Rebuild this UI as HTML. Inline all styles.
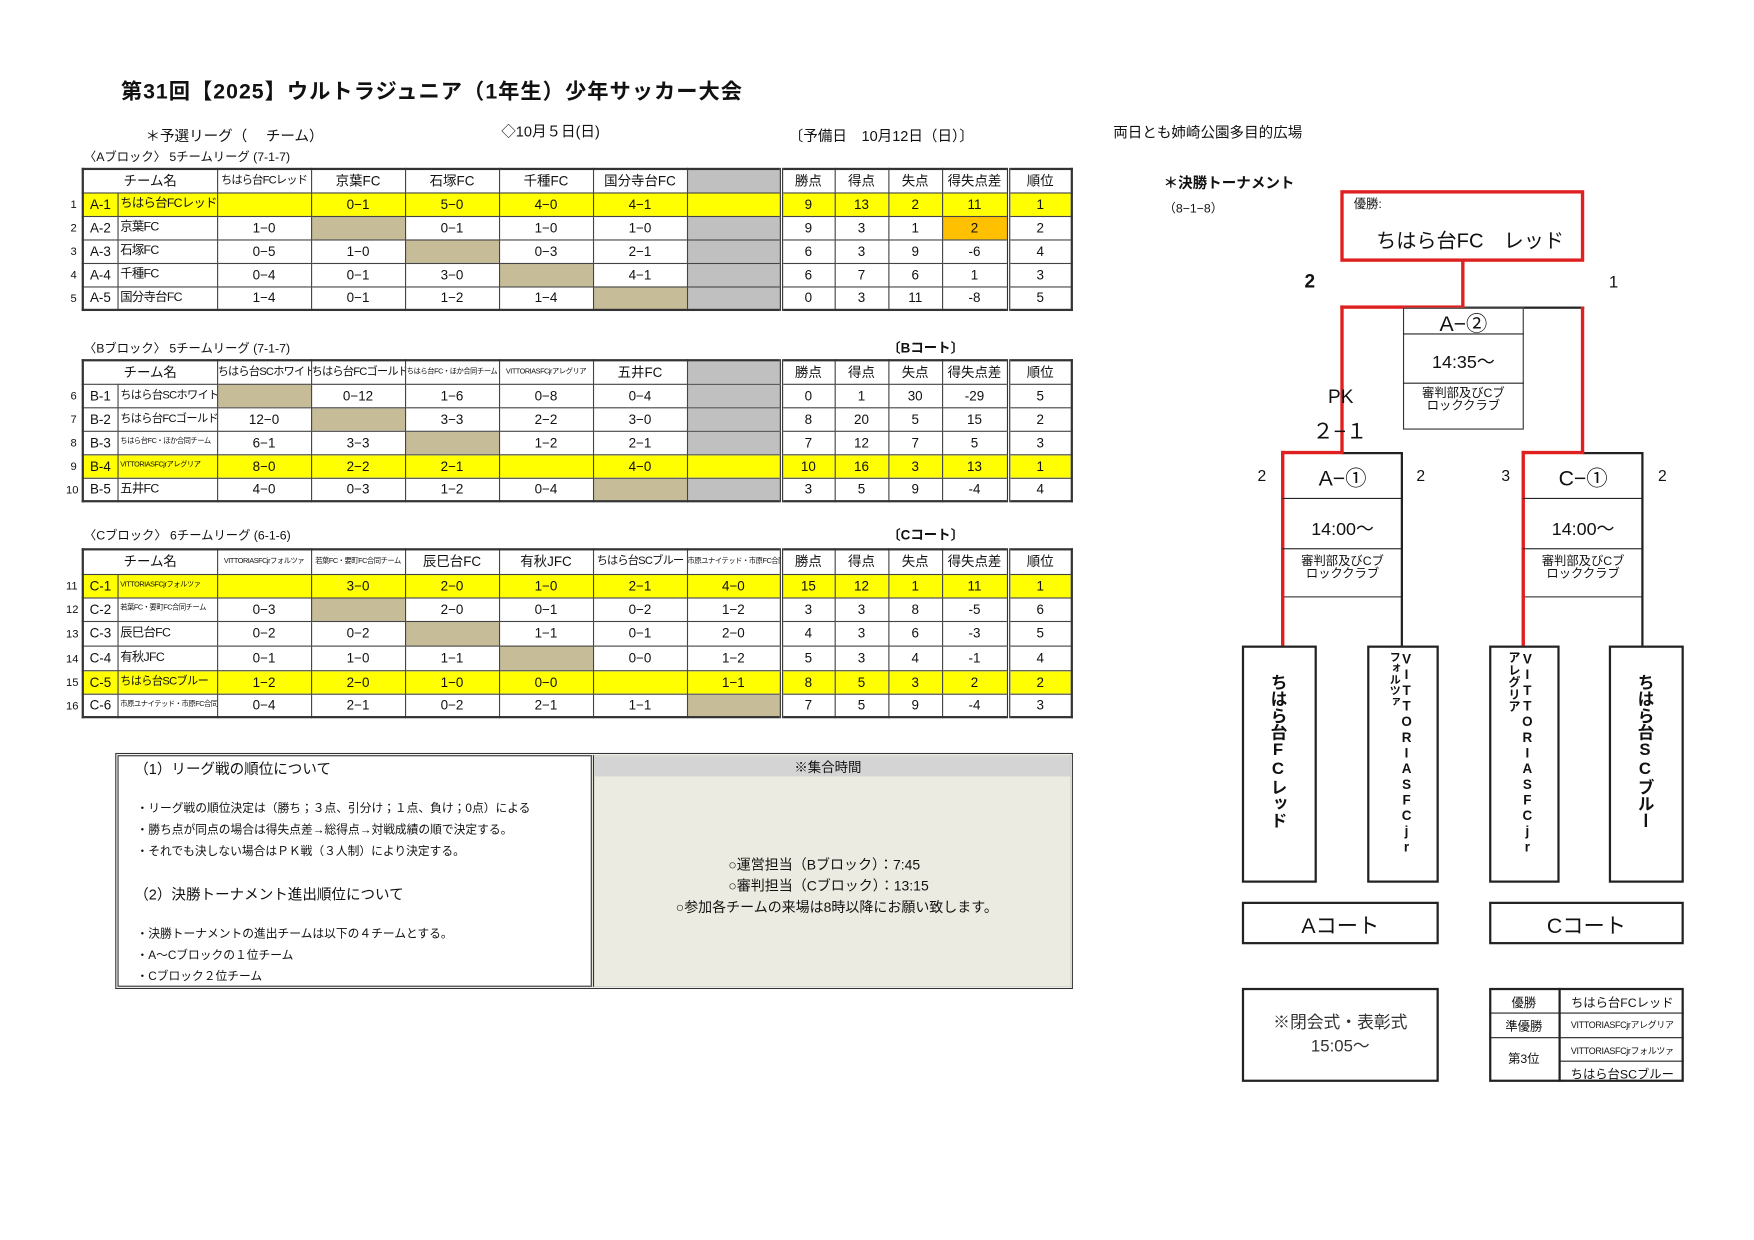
<!DOCTYPE html>
<html><head><meta charset="utf-8">
<style>
html,body{margin:0;padding:0;background:#fff;}
body{width:1754px;height:1240px;overflow:hidden;position:relative;font-family:"Liberation Sans","Noto Sans CJK JP",sans-serif;color:#111;}
#w{position:absolute;left:0;top:0;width:1560px;height:1103px;transform:scale(1.1188);transform-origin:0 0;}
.a{position:absolute;white-space:nowrap;}
table.t{position:absolute;border-collapse:collapse;table-layout:fixed;border:2px solid #333;}
table.t td{border:1px solid #444;padding:0;text-align:center;font-size:12px;overflow:hidden;white-space:nowrap;line-height:1;}
table.t td.l{text-align:left;padding-left:2px;font-size:11px;letter-spacing:-0.6px;}
td.s{font-size:6.5px !important;letter-spacing:-0.4px !important;}
td.h{font-size:10px !important;letter-spacing:-0.7px;}
td.bl{border-left:3px double #333 !important;}
tr.y td{background:#ffff00;}
td.tan{background:#c6bc98 !important;}
td.gr{background:#c0c0c0 !important;}
td.or{background:#ffc000 !important;}
.rn{position:absolute;font-size:10px;left:63px;}
.box{position:absolute;border:2px solid #222;box-sizing:border-box;background:#fff;}
.red{position:absolute;background:#e02020;}
.blk{position:absolute;background:#222;}
.vt{writing-mode:vertical-rl;text-orientation:upright;font-weight:bold;font-size:15px;line-height:1.05;position:absolute;}
</style></head><body><div id="w">

<div class="a" style="left:108px;top:67px;font-size:19px;font-weight:bold;letter-spacing:0.9px;">第31回【2025】ウルトラジュニア（1年生）少年サッカー大会</div>
<div class="a" style="left:130px;top:111px;font-size:13px;">＊予選リーグ（　 チーム）</div>
<div class="a" style="left:448px;top:107px;font-size:13px;">◇10月５日(日)</div>
<div class="a" style="left:705px;top:111px;font-size:13px;">〔予備日　10月12日（日）〕</div>
<div class="a" style="left:995px;top:108px;font-size:13px;">両日とも姉崎公園多目的広場</div>

<div class="a" style="left:75px;top:132px;font-size:11px;">〈Aブロック〉 5チームリーグ (7-1-7)</div>
<table class="t" style="left:73px;top:150px;width:886px;">
<colgroup><col style="width:31px"><col style="width:89px"><col style="width:84px"><col style="width:84px"><col style="width:84px"><col style="width:84px"><col style="width:84px"><col style="width:84px"><col style="width:48px"><col style="width:48px"><col style="width:48px"><col style="width:59px"><col style="width:57px"></colgroup>
<tr style="height:21px"><td colspan="2">チーム名</td><td class="h">ちはら台FCレッド</td><td>京葉FC</td><td>石塚FC</td><td>千種FC</td><td>国分寺台FC</td><td class="gr"></td><td class="bl">勝点</td><td>得点</td><td>失点</td><td>得失点差</td><td class="bl">順位</td></tr>
<tr class="y" style="height:21px"><td>A-1</td><td class="l">ちはら台FCレッド</td><td></td><td>0−1</td><td>5−0</td><td>4−0</td><td>4−1</td><td></td><td class="bl">9</td><td>13</td><td>2</td><td>11</td><td class="bl">1</td></tr>
<tr style="height:21px"><td>A-2</td><td class="l">京葉FC</td><td>1−0</td><td class="tan"></td><td>0−1</td><td>1−0</td><td>1−0</td><td class="gr"></td><td class="bl">9</td><td>3</td><td>1</td><td class="or">2</td><td class="bl">2</td></tr>
<tr style="height:21px"><td>A-3</td><td class="l">石塚FC</td><td>0−5</td><td>1−0</td><td class="tan"></td><td>0−3</td><td>2−1</td><td class="gr"></td><td class="bl">6</td><td>3</td><td>9</td><td>-6</td><td class="bl">4</td></tr>
<tr style="height:21px"><td>A-4</td><td class="l">千種FC</td><td>0−4</td><td>0−1</td><td>3−0</td><td class="tan"></td><td>4−1</td><td class="gr"></td><td class="bl">6</td><td>7</td><td>6</td><td>1</td><td class="bl">3</td></tr>
<tr style="height:21px"><td>A-5</td><td class="l">国分寺台FC</td><td>1−4</td><td>0−1</td><td>1−2</td><td>1−4</td><td class="tan"></td><td class="gr"></td><td class="bl">0</td><td>3</td><td>11</td><td>-8</td><td class="bl">5</td></tr>
</table>
<div class="rn" style="top:178px">1</div><div class="rn" style="top:199px">2</div><div class="rn" style="top:220px">3</div><div class="rn" style="top:241px">4</div><div class="rn" style="top:262px">5</div>

<div class="a" style="left:75px;top:303px;font-size:11px;">〈Bブロック〉 5チームリーグ (7-1-7)</div>
<div class="a" style="left:793px;top:302px;font-size:12px;font-weight:bold;">〔Bコート〕</div>
<table class="t" style="left:73px;top:321px;width:886px;">
<colgroup><col style="width:31px"><col style="width:89px"><col style="width:84px"><col style="width:84px"><col style="width:84px"><col style="width:84px"><col style="width:84px"><col style="width:84px"><col style="width:48px"><col style="width:48px"><col style="width:48px"><col style="width:59px"><col style="width:57px"></colgroup>
<tr style="height:21px"><td colspan="2">チーム名</td><td class="h">ちはら台SCホワイト</td><td class="h">ちはら台FCゴールド</td><td class="s">ちはら台FC・ほか合同チーム</td><td class="s">VITTORIASFCjrアレグリア</td><td>五井FC</td><td class="gr"></td><td class="bl">勝点</td><td>得点</td><td>失点</td><td>得失点差</td><td class="bl">順位</td></tr>
<tr style="height:21px"><td>B-1</td><td class="l h">ちはら台SCホワイト</td><td class="tan"></td><td>0−12</td><td>1−6</td><td>0−8</td><td>0−4</td><td class="gr"></td><td class="bl">0</td><td>1</td><td>30</td><td>-29</td><td class="bl">5</td></tr>
<tr style="height:21px"><td>B-2</td><td class="l h">ちはら台FCゴールド</td><td>12−0</td><td class="tan"></td><td>3−3</td><td>2−2</td><td>3−0</td><td class="gr"></td><td class="bl">8</td><td>20</td><td>5</td><td>15</td><td class="bl">2</td></tr>
<tr style="height:21px"><td>B-3</td><td class="l s">ちはら台FC・ほか合同チーム</td><td>6−1</td><td>3−3</td><td class="tan"></td><td>1−2</td><td>2−1</td><td class="gr"></td><td class="bl">7</td><td>12</td><td>7</td><td>5</td><td class="bl">3</td></tr>
<tr class="y" style="height:21px"><td>B-4</td><td class="l s">VITTORIASFCjrアレグリア</td><td>8−0</td><td>2−2</td><td>2−1</td><td></td><td>4−0</td><td></td><td class="bl">10</td><td>16</td><td>3</td><td>13</td><td class="bl">1</td></tr>
<tr style="height:21px"><td>B-5</td><td class="l">五井FC</td><td>4−0</td><td>0−3</td><td>1−2</td><td>0−4</td><td class="tan"></td><td class="gr"></td><td class="bl">3</td><td>5</td><td>9</td><td>-4</td><td class="bl">4</td></tr>
</table>
<div class="rn" style="top:349px">6</div><div class="rn" style="top:370px">7</div><div class="rn" style="top:391px">8</div><div class="rn" style="top:412px">9</div><div class="rn" style="top:433px;left:59px">10</div>

<div class="a" style="left:75px;top:470px;font-size:11px;">〈Cブロック〉 6チームリーグ (6-1-6)</div>
<div class="a" style="left:793px;top:469px;font-size:12px;font-weight:bold;">〔Cコート〕</div>
<table class="t" style="left:73px;top:490px;width:886px;">
<colgroup><col style="width:31px"><col style="width:89px"><col style="width:84px"><col style="width:84px"><col style="width:84px"><col style="width:84px"><col style="width:84px"><col style="width:84px"><col style="width:48px"><col style="width:48px"><col style="width:48px"><col style="width:59px"><col style="width:57px"></colgroup>
<tr style="height:22px"><td colspan="2">チーム名</td><td class="s">VITTORIASFCjrフォルツァ</td><td class="s">若葉FC・要町FC合同チーム</td><td>辰巳台FC</td><td>有秋JFC</td><td class="h">ちはら台SCブルー</td><td class="s">市原ユナイテッド・市原FC合同チーム</td><td class="bl">勝点</td><td>得点</td><td>失点</td><td>得失点差</td><td class="bl">順位</td></tr>
<tr class="y" style="height:21px"><td>C-1</td><td class="l s">VITTORIASFCjrフォルツァ</td><td></td><td>3−0</td><td>2−0</td><td>1−0</td><td>2−1</td><td>4−0</td><td class="bl">15</td><td>12</td><td>1</td><td>11</td><td class="bl">1</td></tr>
<tr style="height:21px"><td>C-2</td><td class="l s">若葉FC・要町FC合同チーム</td><td>0−3</td><td class="tan"></td><td>2−0</td><td>0−1</td><td>0−2</td><td>1−2</td><td class="bl">3</td><td>3</td><td>8</td><td>-5</td><td class="bl">6</td></tr>
<tr style="height:22px"><td>C-3</td><td class="l">辰巳台FC</td><td>0−2</td><td>0−2</td><td class="tan"></td><td>1−1</td><td>0−1</td><td>2−0</td><td class="bl">4</td><td>3</td><td>6</td><td>-3</td><td class="bl">5</td></tr>
<tr style="height:22px"><td>C-4</td><td class="l">有秋JFC</td><td>0−1</td><td>1−0</td><td>1−1</td><td class="tan"></td><td>0−0</td><td>1−2</td><td class="bl">5</td><td>3</td><td>4</td><td>-1</td><td class="bl">4</td></tr>
<tr class="y" style="height:21px"><td>C-5</td><td class="l h">ちはら台SCブルー</td><td>1−2</td><td>2−0</td><td>1−0</td><td>0−0</td><td></td><td>1−1</td><td class="bl">8</td><td>5</td><td>3</td><td>2</td><td class="bl">2</td></tr>
<tr style="height:21px"><td>C-6</td><td class="l s">市原ユナイテッド・市原FC合同チーム</td><td>0−4</td><td>2−1</td><td>0−2</td><td>2−1</td><td>1−1</td><td class="tan"></td><td class="bl">7</td><td>5</td><td>9</td><td>-4</td><td class="bl">3</td></tr>
</table>
<div class="rn" style="top:519px;left:59px">11</div><div class="rn" style="top:540px;left:59px">12</div><div class="rn" style="top:562px;left:59px">13</div><div class="rn" style="top:584px;left:59px">14</div><div class="rn" style="top:605px;left:59px">15</div><div class="rn" style="top:626px;left:59px">16</div>

<!-- notes -->
<div style="position:absolute;left:103px;top:673px;width:856px;height:211px;border:3px double #333;box-sizing:border-box;"></div>
<div style="position:absolute;left:528px;top:675px;width:429px;height:207px;background:#ecebe1;border-left:3px double #333;box-sizing:border-box;"></div>
<div style="position:absolute;left:531px;top:676px;width:426px;height:18px;background:#d4d4d4;"></div>
<div class="a" style="left:710px;top:677px;font-size:12px;">※集合時間</div>
<div class="a" style="left:120px;top:677px;font-size:13px;">（1）リーグ戦の順位について</div>
<div class="a" style="left:122px;top:715px;font-size:10.5px;">・リーグ戦の順位決定は（勝ち；３点、引分け；１点、負け；0点）による</div>
<div class="a" style="left:122px;top:734px;font-size:10.5px;">・勝ち点が同点の場合は得失点差→総得点→対戦成績の順で決定する。</div>
<div class="a" style="left:122px;top:753px;font-size:10.5px;">・それでも決しない場合はＰＫ戦（３人制）により決定する。</div>
<div class="a" style="left:120px;top:789px;font-size:13px;">（2）決勝トーナメント進出順位について</div>
<div class="a" style="left:122px;top:827px;font-size:10.5px;">・決勝トーナメントの進出チームは以下の４チームとする。</div>
<div class="a" style="left:122px;top:846px;font-size:10.5px;">・A～Cブロックの１位チーム</div>
<div class="a" style="left:122px;top:865px;font-size:10.5px;">・Cブロック２位チーム</div>
<div class="a" style="left:651px;top:762px;font-size:12.5px;">○運営担当（Bブロック）：7:45</div>
<div class="a" style="left:651px;top:781px;font-size:12.5px;">○審判担当（Cブロック）：13:15</div>
<div class="a" style="left:604px;top:800px;font-size:12.5px;">○参加各チームの来場は8時以降にお願い致します。</div>

<!-- tournament -->
<div class="a" style="left:1040px;top:153px;font-size:13px;font-weight:bold;">＊決勝トーナメント</div>
<div class="a" style="left:1040px;top:178px;font-size:11px;">（8−1−8）</div>

<div class="box" style="left:1198px;top:170px;width:218px;height:64px;border:3px solid #e02020;"></div>
<div class="a" style="left:1210px;top:174px;font-size:11px;">優勝:</div>
<div class="a" style="left:1230px;top:201px;font-size:18px;">ちはら台FC　レッド</div>

<div class="red" style="left:1306px;top:233px;width:3px;height:42px;"></div>
<div class="red" style="left:1198px;top:273px;width:111px;height:3px;"></div>
<div class="blk" style="left:1309px;top:274px;width:107px;height:2px;"></div>
<div class="red" style="left:1198px;top:273px;width:3px;height:133px;"></div>
<div class="red" style="left:1413px;top:274px;width:3px;height:132px;"></div>
<div class="a" style="left:1166px;top:242px;font-size:17px;font-weight:bold;">2</div>
<div class="a" style="left:1438px;top:244px;font-size:15px;">1</div>

<div class="box" style="left:1254px;top:275px;width:108px;height:109px;border:1.5px solid #333;"></div>
<div class="blk" style="left:1254px;top:298px;width:108px;height:1px;"></div>
<div class="blk" style="left:1254px;top:342px;width:108px;height:1px;"></div>
<div class="a" style="left:1254px;top:275px;width:108px;text-align:center;font-size:19px;">A−②</div>
<div class="a" style="left:1254px;top:310px;width:108px;text-align:center;font-size:16px;">14:35〜</div>
<div class="a" style="left:1254px;top:347px;width:108px;text-align:center;font-size:11px;line-height:11px;white-space:normal;">審判部及びCブ<br>ロッククラブ</div>
<div class="a" style="left:1187px;top:345px;font-size:17px;">PK</div>
<div class="a" style="left:1173px;top:371px;font-size:19px;">２−１</div>

<!-- A-1 -->
<div class="box" style="left:1146px;top:404px;width:108px;height:130px;border:1.5px solid #333;border-top:none;"></div>
<div class="blk" style="left:1199px;top:404px;width:55px;height:2px;"></div>
<div class="red" style="left:1145px;top:403px;width:56px;height:3px;"></div>
<div class="red" style="left:1145px;top:403px;width:3px;height:175px;"></div>
<div class="blk" style="left:1252px;top:404px;width:2px;height:174px;"></div>
<div class="blk" style="left:1146px;top:445px;width:108px;height:1px;"></div>
<div class="blk" style="left:1146px;top:490px;width:108px;height:1px;"></div>
<div class="a" style="left:1146px;top:413px;width:108px;text-align:center;font-size:19px;">A−①</div>
<div class="a" style="left:1146px;top:459px;width:108px;text-align:center;font-size:16px;">14:00〜</div>
<div class="a" style="left:1146px;top:497px;width:108px;text-align:center;font-size:11px;line-height:11px;">審判部及びCブ<br>ロッククラブ</div>
<div class="a" style="left:1124px;top:417px;font-size:14px;">2</div>
<div class="a" style="left:1266px;top:417px;font-size:14px;">2</div>

<!-- C-1 -->
<div class="box" style="left:1361px;top:404px;width:108px;height:130px;border:1.5px solid #333;border-top:none;"></div>
<div class="blk" style="left:1415px;top:404px;width:54px;height:2px;"></div>
<div class="red" style="left:1360px;top:403px;width:56px;height:3px;"></div>
<div class="red" style="left:1360px;top:403px;width:3px;height:175px;"></div>
<div class="blk" style="left:1467px;top:404px;width:2px;height:174px;"></div>
<div class="blk" style="left:1361px;top:445px;width:108px;height:1px;"></div>
<div class="blk" style="left:1361px;top:490px;width:108px;height:1px;"></div>
<div class="a" style="left:1361px;top:413px;width:108px;text-align:center;font-size:19px;">C−①</div>
<div class="a" style="left:1361px;top:459px;width:108px;text-align:center;font-size:16px;">14:00〜</div>
<div class="a" style="left:1361px;top:497px;width:108px;text-align:center;font-size:11px;line-height:11px;">審判部及びCブ<br>ロッククラブ</div>
<div class="a" style="left:1342px;top:417px;font-size:14px;">3</div>
<div class="a" style="left:1482px;top:417px;font-size:14px;">2</div>

<!-- team boxes -->
<div class="box" style="left:1110px;top:577px;width:67px;height:212px;"></div>
<div class="vt" style="left:1134px;top:602px;">ちはら台FCレッド</div>
<div class="box" style="left:1222px;top:577px;width:64px;height:212px;"></div>
<div class="vt" style="left:1238px;top:582px;font-size:12px;">VITTORIASFCjr<br><span style="font-size:10px">フォルツァ</span></div>
<div class="box" style="left:1331px;top:577px;width:63px;height:212px;"></div>
<div class="vt" style="left:1346px;top:582px;font-size:12px;">VITTORIASFCjr<br><span style="font-size:11px">アレグリア</span></div>
<div class="box" style="left:1438px;top:577px;width:67px;height:212px;"></div>
<div class="vt" style="left:1462px;top:602px;">ちはら台SCブルー</div>

<div class="box" style="left:1110px;top:806px;width:176px;height:38px;"></div>
<div class="a" style="left:1110px;top:813px;width:176px;text-align:center;font-size:19px;">Aコート</div>
<div class="box" style="left:1331px;top:806px;width:174px;height:38px;"></div>
<div class="a" style="left:1331px;top:813px;width:174px;text-align:center;font-size:19px;">Cコート</div>

<div class="box" style="left:1110px;top:883px;width:176px;height:84px;"></div>
<div class="a" style="left:1110px;top:904px;width:176px;text-align:center;font-size:15px;line-height:21px;color:#333;">※閉会式・表彰式<br>15:05〜</div>

<div class="box" style="left:1331px;top:883px;width:174px;height:84px;"></div>
<div class="blk" style="left:1393px;top:883px;width:2px;height:84px;"></div>
<div class="blk" style="left:1331px;top:905px;width:174px;height:1px;"></div>
<div class="blk" style="left:1331px;top:927px;width:174px;height:1px;"></div>
<div class="blk" style="left:1394px;top:948px;width:111px;height:1px;"></div>
<div class="a" style="left:1331px;top:888px;width:62px;text-align:center;font-size:11px;">優勝</div>
<div class="a" style="left:1331px;top:909px;width:62px;text-align:center;font-size:11px;">準優勝</div>
<div class="a" style="left:1331px;top:938px;width:62px;text-align:center;font-size:11px;">第3位</div>
<div class="a" style="left:1395px;top:888px;width:110px;text-align:center;font-size:11px;">ちはら台FCレッド</div>
<div class="a" style="left:1395px;top:911px;width:110px;text-align:center;font-size:8px;letter-spacing:-0.3px;">VITTORIASFCjrアレグリア</div>
<div class="a" style="left:1395px;top:934px;width:110px;text-align:center;font-size:8px;letter-spacing:-0.3px;">VITTORIASFCjrフォルツァ</div>
<div class="a" style="left:1395px;top:952px;width:110px;text-align:center;font-size:11px;">ちはら台SCブルー</div>

</div></body></html>
